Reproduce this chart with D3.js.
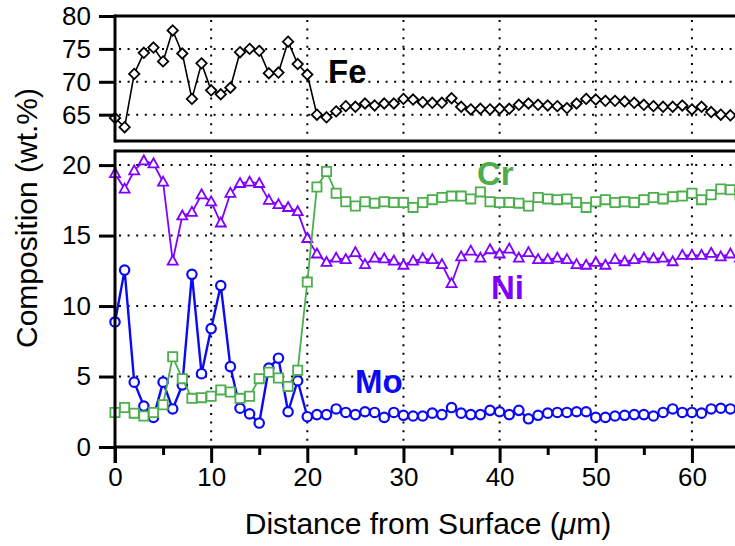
<!DOCTYPE html>
<html>
<head>
<meta charset="utf-8">
<script src="https://cdn.jsdelivr.net/npm/d3@7"></script>
<style>
  body { margin: 0; background: #fff; }
  svg { display: block; font-family: "Liberation Sans", Arial, sans-serif; }
  .axis text { font-size: 26px; fill: #000; }
  .axis path, .axis line { stroke: #000; stroke-width: 3; }
</style>
</head>
<body>
<div id="chart"></div>
<script>
// 1: DATA
const distance = [0, 1, 2, 3, 4, 5, 6, 7, 8, 9, 10, 11, 12, 13, 14, 15, 16, 17, 18, 19,
  20, 21, 22, 23, 24, 25, 26, 27, 28, 29, 30, 31, 32, 33, 34, 35, 36, 37, 38, 39,
  40, 41, 42, 43, 44, 45, 46, 47, 48, 49, 50, 51, 52, 53, 54, 55, 56, 57, 58, 59,
  60, 61, 62, 63, 64, 65];

const fe = [64.5, 63.1, 71.2, 74.4, 75.2, 73.1, 77.8, 74.3, 67.4, 72.8,
  68.7, 68.1, 69.1, 74.5, 75.0, 74.7, 71.3, 71.4, 76.1, 72.7,
  71.1, 65.0, 64.6, 65.5, 66.3, 66.2, 66.7, 66.4, 66.7, 66.7,
  67.4, 67.3, 66.9, 66.8, 66.8, 67.5, 66.2, 65.8, 65.9, 65.8,
  65.9, 65.9, 66.5, 66.7, 66.5, 66.4, 66.3, 66.0, 66.7, 67.4,
  67.3, 67.1, 67.1, 67.0, 66.8, 66.5, 66.3, 66.2, 66.2, 66.4,
  65.8, 66.2, 65.4, 65.0, 64.9, 64.9];

const cr = [2.45, 2.8, 2.4, 2.2, 2.45, 3.0, 6.4, 4.85, 3.45, 3.5,
  3.6, 4.05, 3.9, 3.45, 3.6, 4.85, 5.3, 4.9, 4.3, 5.45,
  11.7, 18.45, 19.55, 18.0, 17.4, 17.1, 17.4, 17.3, 17.4, 17.35,
  17.35, 17.0, 17.35, 17.55, 17.7, 17.8, 17.8, 17.6, 18.1, 17.4,
  17.35, 17.35, 17.3, 17.1, 17.7, 17.6, 17.55, 17.6, 17.35, 17.0,
  17.4, 17.55, 17.35, 17.4, 17.35, 17.55, 17.7, 17.6, 17.75, 17.8,
  18.0, 17.55, 17.9, 18.3, 18.25, 17.9];

const ni = [19.4, 18.3, 19.6, 20.3, 20.1, 18.8, 13.2, 16.4, 16.65, 17.9,
  17.4, 15.9, 18.0, 18.7, 18.8, 18.7, 17.5, 17.2, 17.0, 16.7,
  14.8, 13.7, 13.1, 13.4, 13.3, 13.8, 12.95, 13.4, 13.35, 13.2,
  12.9, 13.2, 13.35, 13.3, 12.95, 11.6, 13.5, 13.9, 13.4, 14.0,
  13.7, 14.05, 13.4, 13.8, 13.3, 13.3, 13.4, 13.3, 12.95, 12.9,
  13.1, 12.9, 13.3, 13.15, 13.3, 13.4, 13.35, 13.4, 13.15, 13.6,
  13.6, 13.6, 13.75, 13.5, 13.7, 13.4];

const mo = [8.87, 12.55, 4.6, 2.9, 2.1, 4.6, 2.7, 4.4, 12.25, 5.2,
  8.4, 11.45, 5.7, 2.75, 2.35, 1.7, 5.6, 6.3, 2.5, 4.7,
  2.15, 2.3, 2.3, 2.7, 2.45, 2.3, 2.5, 2.45, 2.1, 2.45,
  2.25, 2.2, 2.2, 2.4, 2.3, 2.8, 2.4, 2.3, 2.3, 2.6,
  2.5, 2.3, 2.6, 2.0, 2.25, 2.4, 2.45, 2.45, 2.5, 2.5,
  2.1, 2.1, 2.2, 2.25, 2.3, 2.3, 2.2, 2.45, 2.7, 2.45,
  2.45, 2.4, 2.7, 2.75, 2.7, 2.6];

const xTicks = [0, 10, 20, 30, 40, 50, 60];
const xMinorTicks = [5, 15, 25, 35, 45, 55, 65];
const feTicks = [65, 70, 75, 80];
const lowerTicks = [0, 5, 10, 15, 20];

// 2: LAYOUT
const W = 735, H = 546;
const left = 115, right = 740;
const topPanel = { top: 16, bottom: 141 };
const lowPanel = { top: 151, bottom: 447 };

const svg = d3.select("#chart").append("svg")
  .attr("width", W).attr("height", H);

// 3: SCALES
const x = d3.scaleLinear().domain([0, 65]).range([left, right]);
const yFe = d3.scaleLinear().domain([61, 80]).range([topPanel.bottom, topPanel.top]);
const yLow = d3.scaleLinear().domain([0, 21]).range([lowPanel.bottom, lowPanel.top]);

// 4: GRID (dotted)
const grid = svg.append("g")
  .attr("stroke", "#000").attr("stroke-width", 2)
  .attr("stroke-dasharray", "2,6.6");

grid.selectAll(".vt").data(xTicks.slice(1)).enter().append("line")
  .attr("x1", d => x(d)).attr("x2", d => x(d))
  .attr("y1", topPanel.top + 4).attr("y2", topPanel.bottom - 2);
grid.selectAll(".ht").data(feTicks.slice(0, 3)).enter().append("line")
  .attr("x1", left + 4).attr("x2", W)
  .attr("y1", d => yFe(d)).attr("y2", d => yFe(d));
grid.selectAll(".vl").data(xTicks.slice(1)).enter().append("line")
  .attr("x1", d => x(d)).attr("x2", d => x(d))
  .attr("y1", lowPanel.top + 4).attr("y2", lowPanel.bottom - 4);
grid.selectAll(".hl").data(lowerTicks.slice(1)).enter().append("line")
  .attr("x1", left + 4).attr("x2", W)
  .attr("y1", d => yLow(d)).attr("y2", d => yLow(d));

// 5: SERIES
const markers = {
  diamond: "M0,-5.2L5.2,0L0,5.2L-5.2,0Z",
  square: "M-4.6,-4.6H4.6V4.6H-4.6Z",
  triangle: "M0,-5.4L5,3.6H-5Z"
};

function drawSeries(values, yScale, color, lineWidth, marker) {
  const pts = distance.map((d, i) => ({ x: d, v: values[i] }));
  const g = svg.append("g");
  g.append("path")
    .datum(pts)
    .attr("fill", "none")
    .attr("stroke", color)
    .attr("stroke-width", lineWidth)
    .attr("stroke-linejoin", "round")
    .attr("d", d3.line().x(d => x(d.x)).y(d => yScale(d.v)));
  const m = g.selectAll(".m").data(pts).enter();
  if (marker === "circle") {
    m.append("circle")
      .attr("cx", d => x(d.x)).attr("cy", d => yScale(d.v))
      .attr("r", 4.7)
      .attr("fill", "#fff").attr("stroke", color).attr("stroke-width", 2.2);
  } else {
    m.append("path")
      .attr("transform", d => `translate(${x(d.x)},${yScale(d.v)})`)
      .attr("d", markers[marker])
      .attr("fill", "#fff").attr("stroke", color).attr("stroke-width", 1.8);
  }
}

drawSeries(fe, yFe, "#000", 1.6, "diamond");
drawSeries(ni, yLow, "#7f00ff", 1.8, "triangle");
drawSeries(mo, yLow, "#0a0af5", 2.4, "circle");
drawSeries(cr, yLow, "#4cae4c", 1.8, "square");

// 6: FRAMES AND AXES
const frame = svg.append("g").attr("stroke", "#000").attr("stroke-width", 3);
frame.append("line").attr("x1", left).attr("x2", W).attr("y1", topPanel.top).attr("y2", topPanel.top);
frame.append("line").attr("x1", left).attr("x2", W).attr("y1", topPanel.bottom).attr("y2", topPanel.bottom);
frame.append("line").attr("x1", left).attr("x2", W).attr("y1", lowPanel.top).attr("y2", lowPanel.top);
frame.append("line").attr("x1", left).attr("x2", left).attr("y1", topPanel.top - 1.5).attr("y2", topPanel.bottom + 1.5);
frame.append("line").attr("x1", left).attr("x2", left).attr("y1", lowPanel.top - 1.5).attr("y2", lowPanel.bottom + 16);

svg.append("g").attr("class", "axis")
  .attr("transform", `translate(${left},0)`)
  .call(d3.axisLeft(yFe).tickValues(feTicks).tickSize(16).tickSizeOuter(0).tickPadding(8))
  .call(g => g.select(".domain").remove());

svg.append("g").attr("class", "axis")
  .attr("transform", `translate(${left},0)`)
  .call(d3.axisLeft(yLow).tickValues(lowerTicks).tickSize(16).tickSizeOuter(0).tickPadding(8))
  .call(g => g.select(".domain").remove());

svg.append("g").attr("class", "axis")
  .attr("transform", `translate(0,${lowPanel.bottom})`)
  .call(d3.axisBottom(x).tickValues(xMinorTicks).tickSize(8).tickSizeOuter(0).tickFormat(""))
  .call(g => g.select(".domain").remove());

svg.append("g").attr("class", "axis")
  .attr("transform", `translate(0,${lowPanel.bottom})`)
  .call(d3.axisBottom(x).tickValues(xTicks).tickSize(16).tickSizeOuter(0).tickPadding(5))
  .call(g => g.select(".domain").attr("d", `M${left},0H${W}`));

// 7: LABELS
svg.append("text")
  .attr("x", 428).attr("y", 534)
  .attr("text-anchor", "middle")
  .style("font-size", "30px")
  .html('Distance from Surface (<tspan font-style="italic">μ</tspan>m)');

svg.append("text")
  .attr("transform", "translate(37,218) rotate(-90)")
  .attr("text-anchor", "middle")
  .style("font-size", "30px")
  .text("Composition (wt.%)");

const seriesLabels = [
  { t: "Fe", x: 328, y: 83, c: "#000" },
  { t: "Cr", x: 477, y: 185, c: "#4cae4c" },
  { t: "Ni", x: 491, y: 299, c: "#7f00ff" },
  { t: "Mo", x: 355, y: 393, c: "#0a0af5" }
];
svg.selectAll(".lbl").data(seriesLabels).enter().append("text")
  .attr("x", d => d.x).attr("y", d => d.y)
  .attr("fill", d => d.c)
  .style("font-size", "33px")
  .style("font-weight", "bold")
  .text(d => d.t);
</script>
</body>
</html>
